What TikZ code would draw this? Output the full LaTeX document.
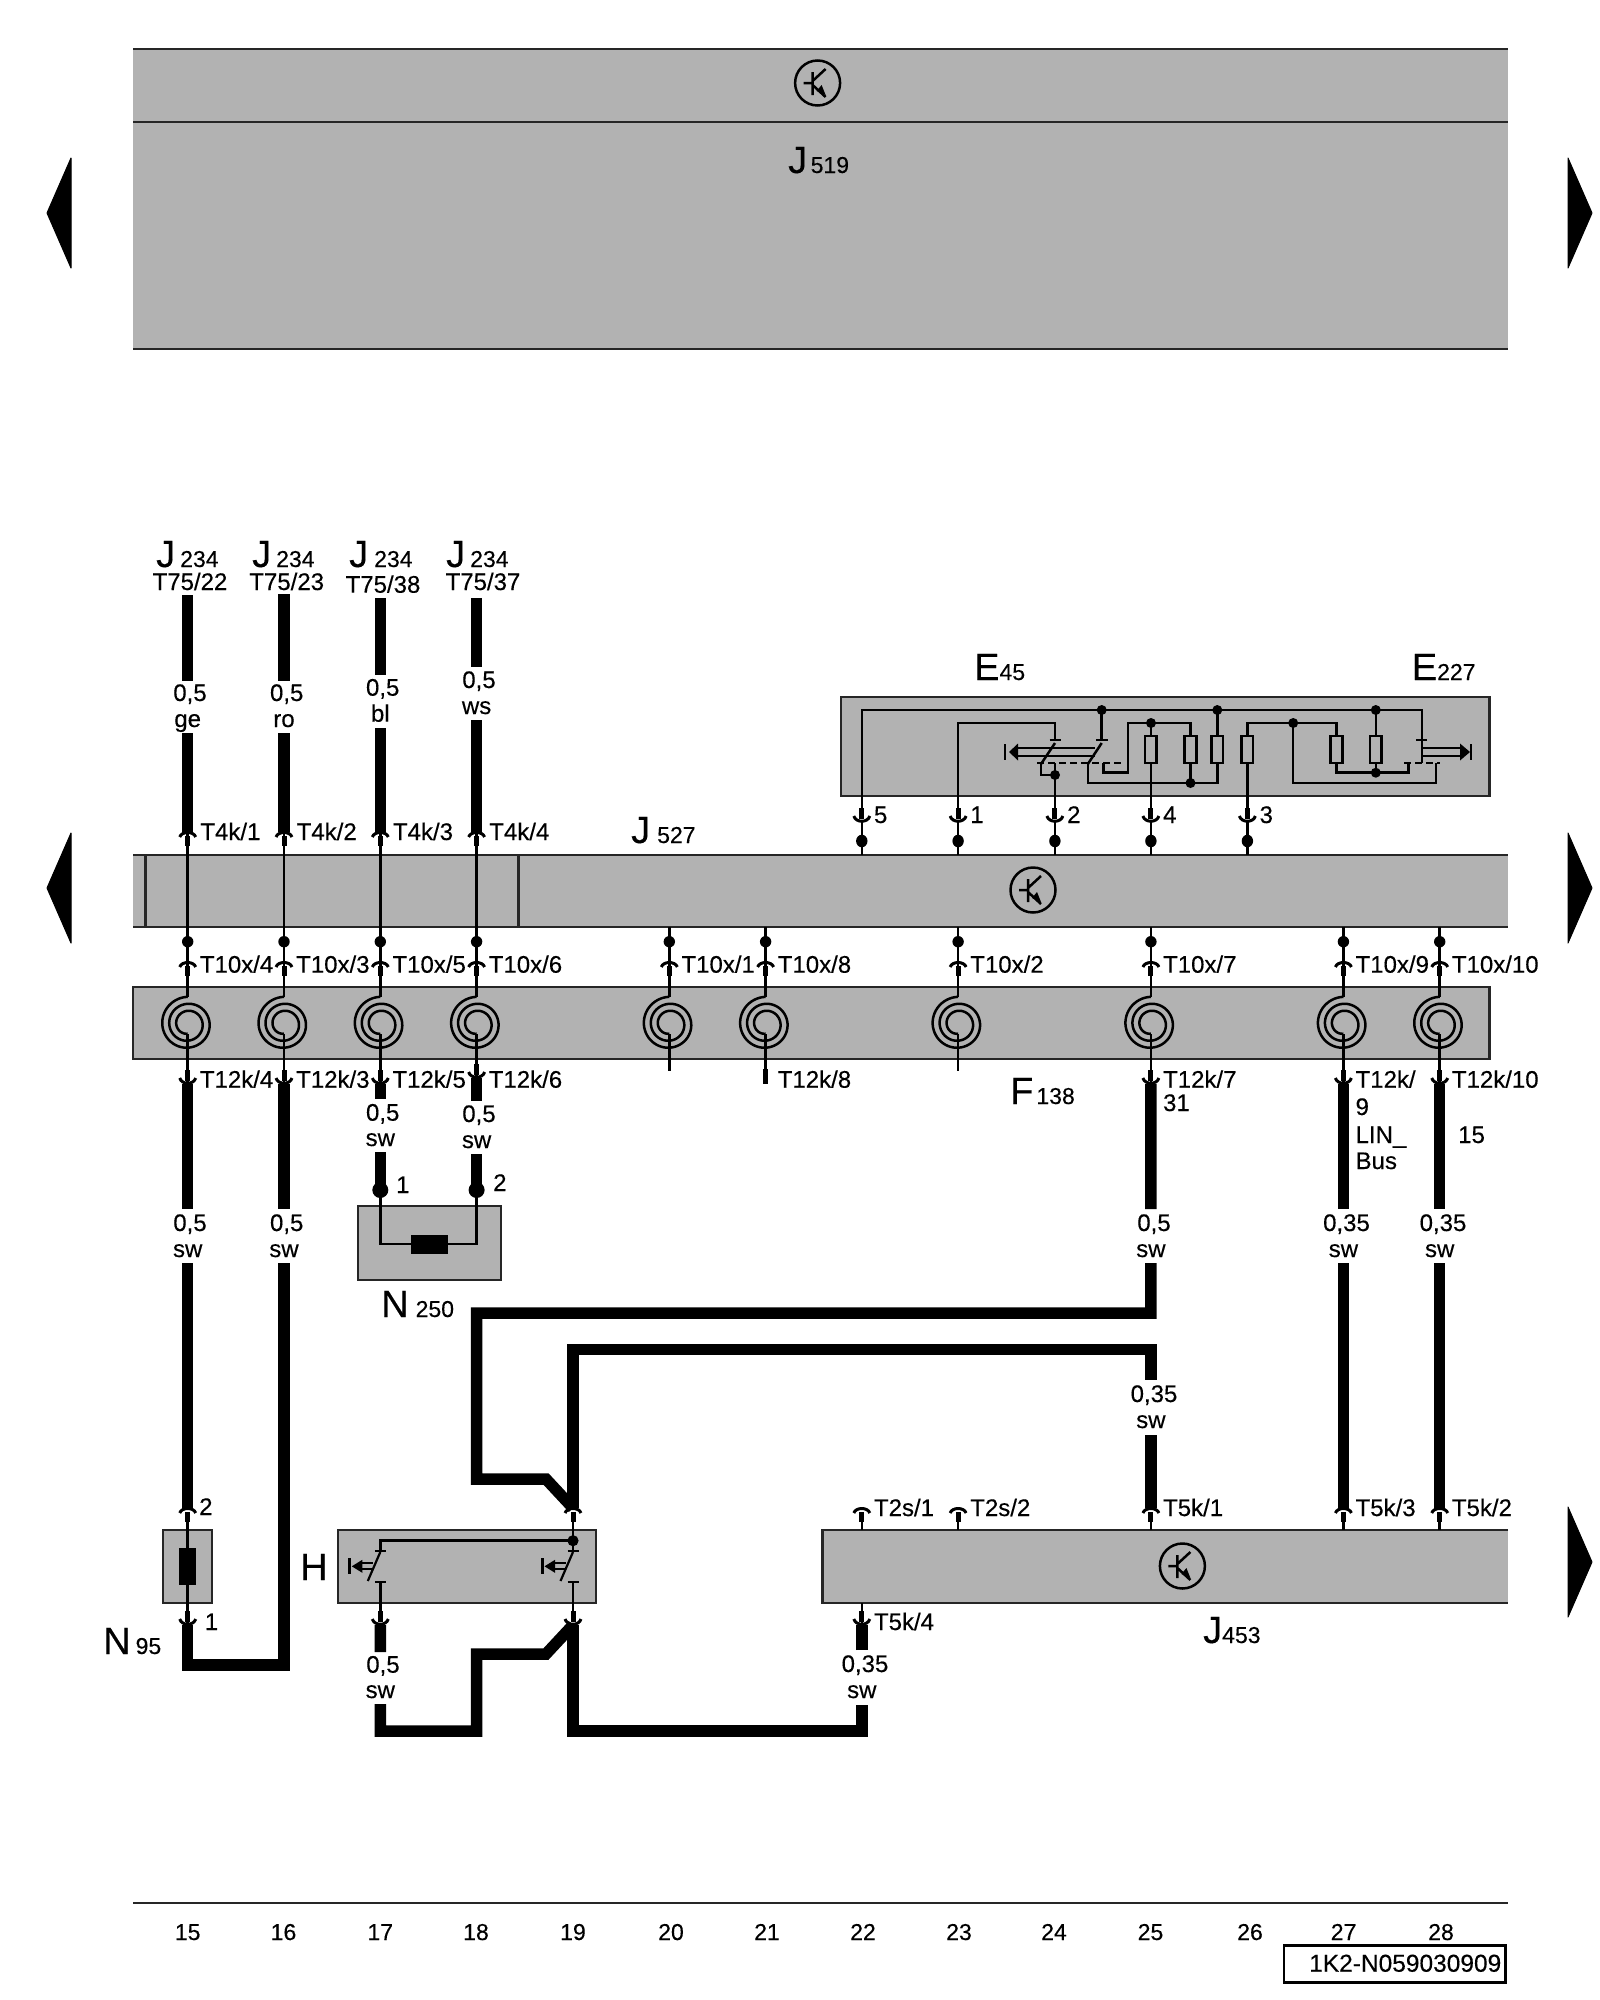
\documentclass[tikz,border=0pt]{standalone}
\usepackage{fontspec}
\setmainfont[FakeBold=0.3]{Liberation Sans}
\newcommand\fL{\fontsize{24}{24}\selectfont}
\newcommand\fB{\fontsize{38}{38}\selectfont}
\newcommand\fS{\fontsize{23}{23}\selectfont}
\definecolor{bg}{RGB}{178,178,178}
\def\Ca{187.7}\def\Cb{284}\def\Cc{380.3}\def\Cd{476.6}\def\Ce{573}\def\Cf{669.3}\def\Cg{765.6}
\def\Ch{861.8}\def\Ci{958.1}\def\Cj{1054.9}\def\Ck{1150.9}\def\Cl{1247.4}\def\Cm{1343.4}\def\Cn{1439.7}
\tikzset{
  wire/.style={line width=11.5pt,line cap=butt,line join=miter},
  thinw/.style={line width=2.5pt},
  edge/.style={line width=2.6pt,black!85},
  tlab/.style={anchor=base west,inner sep=0pt,font=\fL},
  wlab/.style={anchor=base,inner sep=0pt,font=\fL},
  ref/.style={anchor=base west,inner sep=0pt},
  pinup/.pic={
    \draw[line width=3pt] (-8,5) .. controls (-6,-1) and (6,-1) .. (8,5);
    \draw[line width=5pt] (0,4) -- (0,14);},
  pindown/.pic={
    \draw[line width=3pt] (-8,-6) .. controls (-6,1) and (6,1) .. (8,-6);
    \draw[line width=5pt] (0,-14) -- (0,-3);},
  trans/.pic={
    \draw[line width=2.5pt] (0,0) circle (22.5);
    \draw[line width=2.5pt] (-14,0) -- (-5,0) (-5,-11) -- (-5,12)
      (-5,-2) -- (8,-14) (-5,2) -- (8,14);
    \fill (8,12) -- (-1,8) -- (4,2) -- cycle;},
  coil/.pic={
    \draw[thinw] plot[domain=90:990,samples=140,variable=\t]
      ({(27.2-0.01944*(\t-90))*cos(\t)},{-(27.2-0.01944*(\t-90))*sin(\t)});},
}
\newcommand\fuse[3]{\draw[thinw,fill=bg] (#1-5.8,#2) rectangle (#1+5.8,#3);}
\newcommand\wlabel[6]{% name, x, y, text, x, y
  \node[wlab] (#1) at (#2,#3) {#4};\node[wlab] (#1s) at (#5,#6) {sw};}
\begin{document}
\begin{tikzpicture}[x=1pt,y=-1pt]
\useasboundingbox (0,0) rectangle (1600,2000);
\fill[white] (0,0) rectangle (1600,2000);

% ---- boxes
\fill[bg] (133,49) rectangle (1508,349);
\draw[edge] (133,49) -- (1508,49) (133,122) -- (1508,122) (133,349) -- (1508,349);
\fill[bg] (133,855) rectangle (1508,927);
\draw[edge] (133,855) -- (1508,855) (133,927) -- (1508,927) (145.3,855) -- (145.3,927) (518.7,855) -- (518.7,927);
\draw[edge,fill=bg] (133,987) rectangle (1489.7,1059);
\draw[edge,fill=bg] (841,697) rectangle (1489.6,796);
\draw[edge,fill=bg] (358,1206) rectangle (501,1280);
\draw[edge,fill=bg] (163,1530) rectangle (212,1603);
\draw[edge,fill=bg] (338,1530) rectangle (596,1603);
\fill[bg] (822.7,1530) rectangle (1508,1603);
\draw[edge] (1508,1530) -- (822.7,1530) -- (822.7,1603) -- (1508,1603);

% ---- page triangles
\foreach \y in {213,888}{\fill[line width=1pt,draw=black,line join=round] (71,\y-55) -- (47,\y) -- (71,\y+55) -- cycle;}
\foreach \y in {213,888,1562}{\fill[line width=1pt,draw=black,line join=round] (1568,\y-55) -- (1592,\y) -- (1568,\y+55) -- cycle;}

% ---- transistors
\path (817.6,83) pic {trans};
\path (1033,890) pic {trans};
\path (1182.4,1566) pic {trans};

% ---- named terminals
\foreach \n/\x in {a/\Ca,b/\Cb,c/\Cc,d/\Cd,e/\Ce,f/\Cf,g/\Cg,h/\Ch,i/\Ci,j/\Cj,k/\Ck,l/\Cl,m/\Cm,n/\Cn}{
  \coordinate (top\n) at (\x,832);
  \coordinate (bar\n) at (\x,927);
  \coordinate (dot\n) at (\x,941.7);
  \coordinate (mid\n) at (\x,962);
  \coordinate (coiltop\n) at (\x,997);
  \coordinate (coil\n) at (\x,1024);
  \coordinate (coilend\n) at (\x,1034);
  \coordinate (low\n) at (\x,1084);
  \coordinate (con\n) at (\x,1508);
  \coordinate (cup\n) at (\x,1625);
  \coordinate (ecup\n) at (\x,822);
  \coordinate (edot\n) at (\x,841);
  \coordinate (ebar\n) at (\x,855);
}
\coordinate (lowd) at (\Cd,1078);

% ---- thick wires
\draw[wire] (\Ca,595) -- (\Ca,681) (\Ca,733) -- (topa);
\draw[wire] (\Cb,594) -- (\Cb,681) (\Cb,733) -- (topb);
\draw[wire] (\Cc,598) -- (\Cc,675) (\Cc,728) -- (topc);
\draw[wire] (\Cd,598) -- (\Cd,667) (\Cd,720) -- (topd);
\draw[wire] (lowa) -- (\Ca,1209) (\Ca,1263) -- (cona);
\draw[wire] (cupa) -- (\Ca,1665) -- (\Cb,1665) -- (\Cb,1263);
\draw[wire] (lowb) -- (\Cb,1209);
\draw[wire] (lowc) -- (\Cc,1099) (\Cc,1152) -- (\Cc,1188);
\draw[wire] (lowd) -- (\Cd,1101) (\Cd,1154) -- (\Cd,1188);
\draw[wire] (lowk) -- (\Ck,1209) (\Ck,1263) -- (\Ck,1313) -- (\Cd,1313) -- (\Cd,1479) -- (546,1479) -- (cone);
\draw[wire] (cone) -- (\Ce,1349.5) -- (\Ck,1349.5) -- (\Ck,1380) (\Ck,1435) -- (conk);
\draw[wire] (lowm) -- (\Cm,1209) (\Cm,1263) -- (conm);
\draw[wire] (lown) -- (\Cn,1209) (\Cn,1263) -- (conn);
\draw[wire] (cupc) -- (\Cc,1652) (\Cc,1704) -- (\Cc,1731) -- (\Cd,1731) -- (\Cd,1654) -- (546,1654) -- (cupe);
\draw[wire] (cupe) -- (\Ce,1731) -- (\Ch,1731) -- (\Ch,1705) (\Ch,1650) -- (cuph);

% ---- thin wires through the bars
\foreach \n in {a,b,c,d}{\draw[thinw] (top\n) -- (dot\n) -- (mid\n);}
\foreach \n in {f,g,i,k,m,n}{\draw[thinw] (bar\n) -- (dot\n) -- (mid\n);}
\foreach \n in {a,b,c,d,f,g,i,k,m,n}{
  \draw[thinw] (mid\n) -- (coiltop\n);
  \path (coil\n) pic {coil};
  \path (mid\n) pic {pinup};
  \fill (dot\n) ellipse (5.7 and 5.7);
}
\foreach \n in {a,b,c,d}{\path (top\n) pic {pinup};}
\foreach \n in {a,b,c,d,k,m,n}{
  \draw[thinw] (coilend\n) -- (low\n);
  \path (low\n) pic {pindown};
}
\draw[thinw] (coilendf) -- (\Cf,1071);
\draw[thinw] (coilendi) -- (\Ci,1071);
\draw[thinw] (coilendg) -- (\Cg,1070);
\draw[line width=4.5pt] (\Cg,1069) -- (\Cg,1084);

% ---- E45 / E227 pins
\foreach \n in {h,i,j,k,l}{
  \draw[thinw] (ecup\n) -- (edot\n) -- (ebar\n);
  \path (ecup\n) pic {pindown};
  \fill (edot\n) ellipse (5.7 and 6.3);
}
% ---- E45 / E227 inner circuit
\coordinate (j1) at (1101.7,710);\coordinate (j2) at (1217.3,710);\coordinate (j3) at (1375.8,710);
\coordinate (j4) at (1151,723);\coordinate (j5) at (1293.2,723);
\coordinate (j6) at (1055,775);\coordinate (j7) at (1190.5,783);\coordinate (j8) at (1375.8,772.7);
\draw[thinw] (\Ch,808) -- (\Ch,710) -- (1421.8,710) -- (1421.8,763);
\draw[thinw] (\Ci,808) -- (\Ci,723) -- (1055,723) -- (1055,740);
\draw[thinw] (1055,808) -- (1055,763);
\draw[thinw] (1055,775) -- (1041,775) -- (1041,763);
\draw[thinw] (j1) -- (1101.7,740);
\draw[thinw] (1049.5,740) -- (1060.5,740) (1096,740) -- (1107.5,740) (1416,740) -- (1427,740);
\draw[thinw] (1055,743) -- (1041,764) (1101.7,743) -- (1087.9,764);
\draw[thinw,dash pattern=on 7pt off 4pt] (1037.4,763) -- (1121.3,763);
\draw[thinw] (1087.9,763) -- (1087.9,783) -- (1217.3,783) -- (1217.3,763);
\draw[thinw] (1103.5,763) -- (1103.5,772.7) -- (1128,772.7) -- (1128,723) -- (1190.5,723) -- (1190.5,736);
\draw[thinw] (\Ck,808) -- (\Ck,723);
\draw[thinw] (1190.5,763) -- (j7);
\draw[thinw] (j2) -- (1217.3,736);
\draw[thinw] (\Cl,808) -- (\Cl,723) -- (1336.5,723) -- (1336.5,736);
\draw[thinw] (j5) -- (1293.2,783) -- (1436,783) -- (1436,763);
\draw[thinw] (1336.5,763) -- (1336.5,772.7) -- (1408.4,772.7) -- (1408.4,763);
\draw[thinw] (j3) -- (1375.8,736) (1375.8,763) -- (j8);
\draw[thinw,dash pattern=on 7pt off 4pt] (1404,763) -- (1439.6,763);
\fuse{\Ck}{736}{763}\fuse{1190.5}{736}{763}\fuse{1217.3}{736}{763}\fuse{\Cl}{736}{763}\fuse{1336.5}{736}{763}\fuse{1375.8}{736}{763}
\foreach \j in {j1,j2,j3,j4,j5,j6,j7,j8}{\fill (\j) ellipse (5 and 5);}
% E arrows
\draw[line width=2.5pt] (1017,748) -- (1094.5,748) (1017,756) -- (1094.5,756) (1005,744) -- (1005,760);
\fill (1009,752) -- (1018,743.5) -- (1018,760.5) -- cycle;
\draw[line width=2.5pt] (1422,748) -- (1461,748) (1422,756) -- (1461,756) (1471,744) -- (1471,760);
\fill (1470,752) -- (1460,743.5) -- (1460,760.5) -- cycle;

% ---- N250
\draw[thinw] (\Cc,1188) -- (\Cc,1244) -- (\Cd,1244) -- (\Cd,1188);
\fill (411,1235) rectangle (448,1254);
\coordinate (ndot1) at (\Cc,1190);\coordinate (ndot2) at (\Cd,1190);
\fill (ndot1) circle (8);\fill (ndot2) circle (8);

% ---- N95
\path (cona) pic {pinup};
\draw[thinw] (cona) ++(0,10) -- (cupa);
\fill (179,1548) rectangle (196,1585);
\path (cupa) pic {pindown};

% ---- H
\path (cone) pic {pinup};
\coordinate (hj) at (\Ce,1540.7);
\draw[thinw] (cone) ++(0,10) -- (\Ce,1551);
\draw[thinw] (hj) -- (\Cc,1540.7) -- (\Cc,1551);
\fill (hj) circle (5.6);
\foreach \x in {\Cc,\Ce}{
  \draw[line width=2.2pt] (\x-5.5,1551) -- (\x+5.5,1551) (\x-5.5,1581.7) -- (\x+5.5,1581.7);
  \draw[line width=2.2pt] (\x,1552) -- (\x-12.5,1581);
  \draw[thinw] (\x,1581.7) -- (\x,1620);
  \path (\x,1625) pic {pindown};
  \draw[line width=2.2pt] (\x-18,1563.3) -- (\x-7,1563.3) (\x-18,1569.3) -- (\x-7,1569.3);
  \fill (\x-28.5,1566.3) -- (\x-18,1559.8) -- (\x-18,1572.8) -- cycle;
  \draw[line width=2.8pt] (\x-30.5,1558) -- (\x-30.5,1574);
}

% ---- J453 pins
\foreach \n in {h,i,k,m,n}{
  \path (con\n) pic {pinup};
  \draw[thinw] (con\n) ++(0,10) -- (con\n |- 0,1530);
}
\draw[thinw] (\Ch,1603) -- (cuph);
\path (cuph) pic {pindown};

% ---- column numbers and frame
\draw[edge] (133,1903) -- (1508,1903);
\foreach \t/\x in {15/187.7,16/283.5,17/380.3,18/476,19/573,20/671,21/767,22/863,23/959,24/1054,25/1150.5,26/1250,27/1343.6,28/1441}{
  \node[wlab,font=\fS] (n\t) at (\x,1940) {\t};
}
\draw[line width=2.6pt] (1284,1945.7) rectangle (1505.7,1982.7);
\node[ref,font=\fontsize{24.5}{24.5}\selectfont] (code) at (1309,1971.7) {1K2-N059030909};

% ---- references
\node[ref] (rJ519) at (788,173) {\fB J\kern3.5pt\fS 519};
\node[ref] (rJ527) at (631,843) {\fB J\kern7pt\fS 527};
\node[ref] (rJ453) at (1203,1643) {\fB J\kern0pt\fS 453};
\node[ref] (rE45) at (974,680) {\fB E\fS 45};
\node[ref] (rE227) at (1411.6,680) {\fB E\fS 227};
\node[ref] (rF138) at (1010,1104) {\fB F\kern3pt\fS 138};
\node[ref] (rN250) at (381,1317) {\fB N\kern7pt\fS 250};
\node[ref] (rN95) at (103,1654) {\fB N\kern5pt\fS 95};
\node[ref] (rH) at (300,1580) {\fB H};
\node[ref] (rJa) at (156,567) {\fB J\kern5pt\fS 234};
\node[ref] (rJb) at (252,567) {\fB J\kern5pt\fS 234};
\node[ref] (rJc) at (349,567) {\fB J\kern6pt\fS 234};
\node[ref] (rJd) at (446,567) {\fB J\kern5pt\fS 234};
\node[wlab] (Ta) at (190,590) {T75/22};
\node[wlab] (Tb) at (286.7,590) {T75/23};
\node[wlab] (Tc) at (383,592.7) {T75/38};
\node[wlab] (Td) at (483,590) {T75/37};

% ---- wire labels
\node[wlab] (wa1) at (190,701) {0,5};\node[wlab] (wa2) at (\Ca,727) {ge};
\node[wlab] (wb1) at (286.7,701) {0,5};\node[wlab] (wb2) at (\Cb,727) {ro};
\node[wlab] (wc1) at (382.7,695.7) {0,5};\node[wlab] (wc2) at (\Cc,721.7) {bl};
\node[wlab] (wd1) at (479,688) {0,5};\node[wlab] (wd2) at (\Cd,714) {ws};
\wlabel{xc}{382.7}{1120.7}{0,5}{\Cc}{1146}
\wlabel{xd}{479}{1122}{0,5}{\Cd}{1148}
\wlabel{xa}{190}{1231}{0,5}{\Ca}{1257}
\wlabel{xb}{286.7}{1231}{0,5}{\Cb}{1257}
\wlabel{xk}{1154}{1231}{0,5}{\Ck}{1257}
\wlabel{xm}{1346.5}{1231}{0,35}{\Cm}{1257}
\wlabel{xn}{1443}{1231}{0,35}{\Cn}{1257}
\wlabel{xq}{1154}{1402}{0,35}{\Ck}{1428}
\wlabel{xr}{383}{1672.7}{0,5}{\Cc}{1698}
\wlabel{xh}{865}{1672}{0,35}{\Ch}{1698}

% ---- pin labels
\foreach \n/\x/\t in {a/\Ca/{T4k/1},b/\Cb/{T4k/2},c/\Cc/{T4k/3},d/\Cd/{T4k/4}}{
  \node[tlab] (lt\n) at (\x+12.5,840) {\t};}
\foreach \n/\x/\t in {a/\Ca/{T10x/4},b/\Cb/{T10x/3},c/\Cc/{T10x/5},d/\Cd/{T10x/6},f/\Cf/{T10x/1},g/\Cg/{T10x/8},i/\Ci/{T10x/2},k/\Ck/{T10x/7},m/\Cm/{T10x/9},n/\Cn/{T10x/10}}{
  \node[tlab] (lm\n) at (\x+12,972.7) {\t};}
\foreach \n/\x/\t in {a/\Ca/{T12k/4},b/\Cb/{T12k/3},c/\Cc/{T12k/5},d/\Cd/{T12k/6},g/\Cg/{T12k/8},k/\Ck/{T12k/7},m/\Cm/{T12k/},n/\Cn/{T12k/10}}{
  \node[tlab] (ll\n) at (\x+12,1087.7) {\t};}
\node[tlab] (l31) at (1162.9,1111) {31};
\node[tlab] (l9) at (1355.4,1115) {9};
\node[tlab] (lLIN) at (1355.4,1143) {LIN\_};
\node[tlab] (lBus) at (1355.4,1169) {Bus};
\node[tlab] (l15) at (1458,1143) {15};
\foreach \n/\x/\t in {h/\Ch/{T2s/1},i/\Ci/{T2s/2},k/\Ck/{T5k/1},m/\Cm/{T5k/3},n/\Cn/{T5k/2}}{
  \node[tlab] (lj\n) at (\x+12,1516) {\t};}
\node[tlab] (lT54) at (\Ch+12,1630) {T5k/4};
\foreach \n/\x/\t in {h/\Ch/5,i/\Ci/1,j/\Cj/2,k/\Ck/4,l/\Cl/3}{
  \node[tlab] (le\n) at (\x+12,823) {\t};}
\node[tlab] (lp2) at (199,1515) {2};
\node[tlab] (lp1) at (204.6,1630) {1};
\node[tlab] (ln1) at (396,1193) {1};
\node[tlab] (ln2) at (493,1191) {2};
\end{tikzpicture}
\end{document}
